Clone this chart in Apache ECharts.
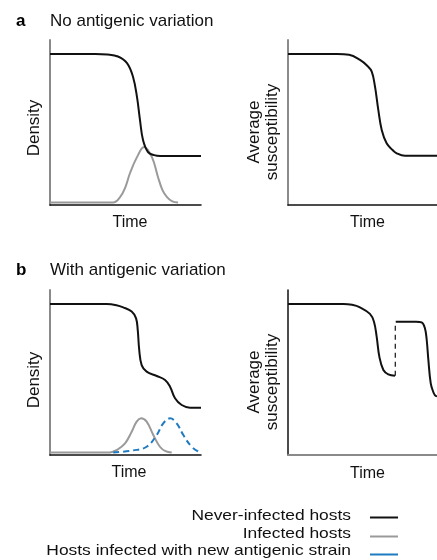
<!DOCTYPE html>
<html><head><meta charset="utf-8">
<script src="https://cdn.jsdelivr.net/npm/echarts@6/dist/echarts.min.js"></script>
<style>html,body{margin:0;padding:0;background:#fff}#c{width:437px;height:560px}</style>
</head><body><div id="c"></div>
<script>
// ---- text ----
const panelLetters = ['a', 'b'];
const panelTitles = ['No antigenic variation', 'With antigenic variation'];
const yLabels = ['Density', 'Average\nsusceptibility'];
const xLabel = 'Time';
const legendNames = ['Never-infected hosts', 'Infected hosts', 'Hosts infected with new antigenic strain'];

// ---- data (time, value) ----
// panel a, left: density
const aNever = [[0,91.5],[30,91.5],[38,91.2],[45,90],[51,86],[55,77.6],[57.6,65.5],[59.6,51.5],[61.6,39.4],[64.9,32.1],[69,30.2],[73,29.7],[100,29.7]];
const aInfected = [[0,1.5],[41.7,1.5],[46.4,4.8],[50,11],[53,19.4],[57.6,29],[62.3,35.2],[67.5,29],[71.5,17],[74.5,9],[77.5,4.8],[81,2.2],[84.8,1.5]];
// panel a, right: average susceptibility
const aSuscept = [[0,91.5],[33,91.5],[41,91],[48.3,87.9],[53,84.5],[56.2,80.8],[58.4,71.7],[60.6,57.6],[62.9,45.5],[66.2,37.4],[70,33.5],[73,31.3],[78.5,29.8],[100,29.8]];
// panel b, left: density
const bNever = [[0,91.5],[37.5,91.5],[44,90.8],[48.5,89.5],[54.1,86.9],[57,82.8],[58.1,75.8],[59.1,63.6],[60.7,54.5],[64,50.5],[70.7,47.9],[76.2,45.5],[79.5,41.4],[82.8,34.4],[87.2,30.3],[92.7,28.7],[100,28.7]];
const bInfected = [[0,1.5],[39.7,1.5],[44.2,3],[49.7,7.1],[54.1,14.1],[57.4,20.2],[60.3,22.2],[64,20.2],[68.4,12.1],[72.8,5],[76.5,2.3],[80.6,1.5]];
const bNewStrain = [[41.9,1.5],[55.2,2.8],[64,5],[70.7,12.1],[75,19.2],[79.5,22.2],[83.9,19.2],[88.3,12.1],[93.8,5],[99.3,1.5]];
// panel b, right: average susceptibility (two segments + jump)
const bSusceptFirst = [[0,91.5],[37.1,91.5],[43,91],[48.3,89.5],[55,85.5],[57.7,80.8],[59.5,71.7],[61.3,59.6],[64,51.5],[67.3,48.9],[71.8,48.1]];
const bSusceptJump = [[72,48.1],[72,80.8]];
const bSusceptSecond = [[72.3,80.8],[86,80.8],[89.7,80.4],[91.9,76.8],[93.1,69.7],[94.2,57.6],[95.8,43.4],[97.5,38.2],[98.7,36.2],[100,35.5]];

// ---- styling ----
const FONT = "'Liberation Sans', Arial, Helvetica, sans-serif";
const BLACK = '#111111', GRAY = '#9a9a9a', BLUE = '#1f7bc1', AXGRAY = '#8a8a8a';

const grids = [
  {left: 50, top: 40, width: 151, height: 165},
  {left: 288, top: 40, width: 149, height: 165},
  {left: 50, top: 290, width: 151, height: 165},
  {left: 288, top: 290, width: 149, height: 165}
];
const xAxisColors = [BLACK, BLACK, BLACK, AXGRAY];
const yAxisColors = [AXGRAY, AXGRAY, AXGRAY, BLACK];

const xAxes = grids.map((g, i) => ({
  type: 'value', gridIndex: i, min: 0, max: 100,
  axisLine: {show: true, lineStyle: {color: xAxisColors[i], width: i === 3 ? 2 : 1.5}},
  axisTick: {show: false}, axisLabel: {show: false}, splitLine: {show: false}
}));
const yAxes = grids.map((g, i) => ({
  type: 'value', gridIndex: i, min: 0, max: 100,
  axisLine: {show: true, lineStyle: {color: yAxisColors[i], width: i === 3 ? 1.5 : 2}},
  axisTick: {show: false}, axisLabel: {show: false}, splitLine: {show: false}
}));

function line(data, idx, color, extra) {
  return Object.assign({
    type: 'line', data: data, xAxisIndex: idx, yAxisIndex: idx,
    showSymbol: false, symbol: 'none', smooth: 0.4,
    lineStyle: {color: color, width: 2}, silent: true, animation: false
  }, extra || {});
}

const series = [
  line(aInfected, 0, GRAY),
  line(aNever, 0, BLACK, {z: 3}),
  line(aSuscept, 1, BLACK),
  line(bInfected, 2, GRAY),
  line(bNewStrain, 2, BLUE, {lineStyle: {color: BLUE, width: 2, type: [6, 4]}}),
  line(bNever, 2, BLACK, {z: 3}),
  line(bSusceptFirst, 3, BLACK),
  line(bSusceptJump, 3, BLACK, {smooth: false, lineStyle: {color: BLACK, width: 1.2, type: [5, 4]}}),
  line(bSusceptSecond, 3, BLACK)
];

// ---- text graphics ----
const graphic = [];
const rowTop = [21, 270];
panelLetters.forEach((L, r) => {
  graphic.push({type: 'text', x: 16, y: rowTop[r], style: {text: L, font: 'bold 17px ' + FONT, fill: '#000', textVerticalAlign: 'middle'}});
  graphic.push({type: 'text', x: 50, y: rowTop[r], style: {text: panelTitles[r], font: '17px ' + FONT, fill: '#111', textVerticalAlign: 'middle'}});
});
const yLabelPos = [[34, 128, 0], [263, 132, 1], [34, 380, 0], [263, 382, 1]];
yLabelPos.forEach(p => {
  graphic.push({type: 'text', x: p[0], y: p[1], rotation: Math.PI / 2,
    style: {text: yLabels[p[2]], font: '17px ' + FONT, fill: '#111', textAlign: 'center', textVerticalAlign: 'middle', lineHeight: 18}});
});
const xLabelPos = [[130, 223], [367.5, 223], [129, 473], [367.5, 474]];
xLabelPos.forEach(p => {
  graphic.push({type: 'text', x: p[0], y: p[1], style: {text: xLabel, font: '16px ' + FONT, fill: '#111', textAlign: 'center', textVerticalAlign: 'middle'}});
});
// legend
const legendTextY = [516, 534, 551];
const legendLineY = [517.5, 536.5, 554.5];
const legendColors = [BLACK, GRAY, BLUE];
legendNames.forEach((n, i) => {
  graphic.push({type: 'text', x: 351, y: legendTextY[i], scaleX: 1.2,
    style: {text: n, font: '14.5px ' + FONT, fill: '#111', textAlign: 'right', textVerticalAlign: 'middle'}});
  graphic.push({type: 'line', shape: {x1: 370, y1: legendLineY[i], x2: 398, y2: legendLineY[i]},
    style: {stroke: legendColors[i], lineWidth: 2}});
});

const chart = echarts.init(document.getElementById('c'), null, {renderer: 'canvas'});
chart.setOption({
  animation: false,
  backgroundColor: '#ffffff',
  grid: grids,
  xAxis: xAxes,
  yAxis: yAxes,
  series: series,
  graphic: graphic
});
</script>
</body></html>
